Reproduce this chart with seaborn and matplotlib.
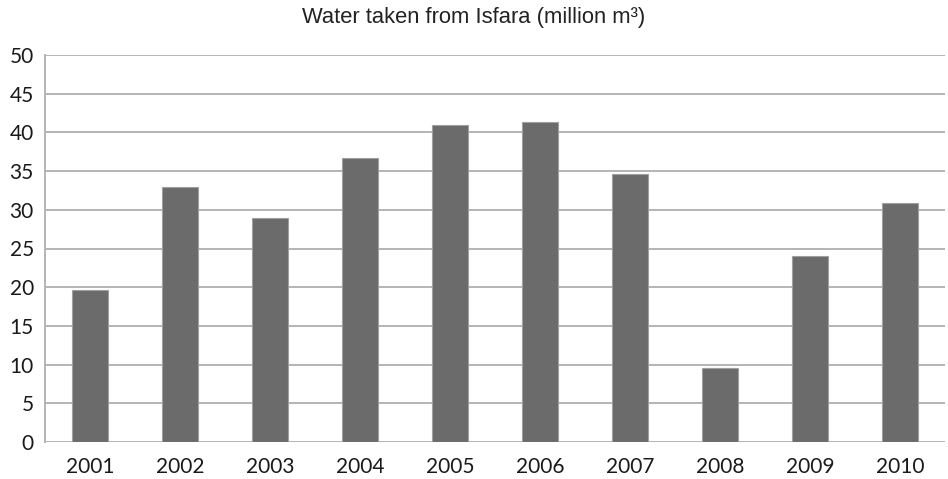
import matplotlib
matplotlib.use("Agg")
import matplotlib.pyplot as plt
import seaborn as sns
import pandas as pd

years = ["2001", "2002", "2003", "2004", "2005", "2006", "2007", "2008", "2009", "2010"]
water = [19.7, 32.9, 28.9, 36.7, 41.0, 41.4, 34.6, 9.6, 24.0, 30.9]
yticks = [0, 5, 10, 15, 20, 25, 30, 35, 40, 45, 50]

df = pd.DataFrame({"year": years, "water": water})

sns.set_theme(style="white")
plt.rcParams['font.family'] = ['Lato', 'DejaVu Sans']

fig = plt.figure(figsize=(9.48, 4.79), dpi=100)
ax = fig.add_axes([45/948, 37/479, 900/948, 387/479])

ax.set_axisbelow(True)
for t in yticks:
    ax.axhline(t, color="#b4b4b4", linewidth=1.4, zorder=0)

sns.barplot(data=df, x="year", y="water", color="#6b6b6b", width=0.39,
            saturation=1, edgecolor="#a0a0a0", linewidth=0.8, ax=ax, zorder=2)

ax.set_xlim(-0.5, 9.5)
ax.set_ylim(0, 50)
ax.set_yticks(yticks)
ax.set_xlabel("")
ax.set_ylabel("")
for s in ["top", "right", "bottom"]:
    ax.spines[s].set_visible(False)
ax.spines["left"].set_color("#b4b4b4")
ax.spines["left"].set_linewidth(1.4)
ax.tick_params(axis="both", length=0, labelsize=15, colors="#1a1a1a")
ax.tick_params(axis="x", pad=11)
ax.tick_params(axis="y", pad=8)

fig.text(0.5, 0.963, "Water taken from Isfara (million m³)", ha="center", va="center",
         fontsize=15.8, family=["Liberation Sans", "DejaVu Sans"], color="#222222")

fig.savefig("out.png", dpi=100, facecolor="white")
